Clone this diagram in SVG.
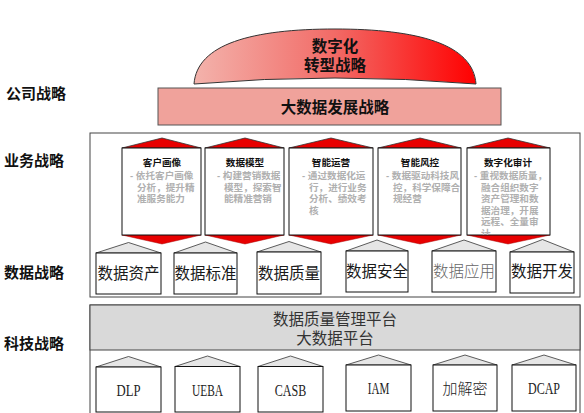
<svg xmlns="http://www.w3.org/2000/svg" width="584" height="413" viewBox="0 0 584 413">
<defs>
<linearGradient id="domeGrad" x1="0" y1="0" x2="1" y2="0">
<stop offset="0" stop-color="#f3b3ac"/>
<stop offset="0.5" stop-color="#f26a66"/>
<stop offset="1" stop-color="#ff0000"/>
</linearGradient>
<clipPath id="c1"><rect x="122" y="148" width="79" height="87"/></clipPath>
<clipPath id="c2"><rect x="205" y="148" width="79" height="87"/></clipPath>
<clipPath id="c3"><rect x="289" y="148" width="84" height="87"/></clipPath>
<clipPath id="c4"><rect x="378" y="148" width="83" height="87"/></clipPath>
<clipPath id="c5"><rect x="467" y="148" width="83" height="87"/></clipPath>
</defs>
<style>
.lbl{font-family:"Liberation Sans","Noto Sans CJK SC",sans-serif;font-weight:bold;font-size:15px;fill:#111}
.frame{fill:#fff;stroke:#444;stroke-width:1}
.red{fill:#e80000;stroke:#333;stroke-width:0.8}
.redb{fill:#e80000;stroke:#a00;stroke-width:0.5}
.body{fill:#fff;stroke:#111;stroke-width:1}
.roof{fill:#e6e6e6;stroke:#333;stroke-width:0.8}
.ct{font-family:"Liberation Sans","Noto Sans CJK SC",sans-serif;font-weight:bold;font-size:9.6px;fill:#111;text-anchor:middle}
.cb{font-family:"Liberation Sans","Noto Sans CJK SC",sans-serif;font-weight:bold;font-size:9.6px;fill:#b0b0b0}
.ht{font-family:"Liberation Sans","Noto Sans CJK SC",sans-serif;font-size:15.5px;fill:#1a1a1a;text-anchor:middle}
.pt{font-family:"Liberation Sans","Noto Sans CJK SC",sans-serif;font-size:15.5px;fill:#333;text-anchor:middle}
.hd{font-family:"Liberation Sans","Noto Sans CJK SC",sans-serif;font-weight:bold;font-size:15.5px;fill:#111;text-anchor:middle}
.tt{font-family:"Liberation Serif","Noto Sans CJK SC",serif;font-size:16px;fill:#222;text-anchor:middle}
</style>

<!-- left labels -->
<g id="labels">
<text class="lbl" x="6" y="98.5">公司战略</text>
<text class="lbl" x="4" y="165.5">业务战略</text>
<text class="lbl" x="4" y="277.5">数据战略</text>
<text class="lbl" x="4" y="348.5">科技战略</text>
</g>

<!-- dome -->
<g id="dome">
<path d="M194,84 C197,44 252,29 335,29 C418,29 473,44 476,84 Q335,72 194,84 Z" fill="url(#domeGrad)" stroke="#333" stroke-width="1"/>
<text class="hd" x="335" y="51.5">数字化</text>
<text class="hd" x="335" y="70.5">转型战略</text>
</g>

<!-- big data strategy -->
<g id="bigdata">
<rect x="158" y="88" width="343" height="37" fill="#f0a29b" stroke="#555" stroke-width="1"/>
<text class="hd" x="335" y="112.5">大数据发展战略</text>
</g>

<!-- business frame -->
<rect id="bizFrame" class="frame" x="90" y="133" width="490" height="164"/>

<!-- business cards -->
<g id="card1">
<polygon class="red" points="122,148 162,138 201,148"/>
<polygon class="redb" points="122,235 162,244 201,235"/>
<rect class="body" x="122" y="148" width="79" height="87"/>
<text class="ct" x="162" y="166">客户画像</text>
<g clip-path="url(#c1)">
<text class="cb" x="130" y="179">- 依托客户画像</text>
<text class="cb" x="137" y="190.5">分析，提升精</text>
<text class="cb" x="137" y="202">准服务能力</text>
</g>
</g>
<g id="card2">
<polygon class="red" points="205,148 245,138 284,148"/>
<polygon class="redb" points="205,235 245,244 284,235"/>
<rect class="body" x="205" y="148" width="79" height="87"/>
<text class="ct" x="245" y="166">数据模型</text>
<g clip-path="url(#c2)">
<text class="cb" x="217" y="179">- 构建营销数据</text>
<text class="cb" x="224" y="190.5">模型，探索智</text>
<text class="cb" x="224" y="202">能精准营销</text>
</g>
</g>
<g id="card3">
<polygon class="red" points="289,148 331,138 373,148"/>
<polygon class="redb" points="289,235 331,244 373,235"/>
<rect class="body" x="289" y="148" width="84" height="87"/>
<text class="ct" x="331" y="166">智能运营</text>
<g clip-path="url(#c3)">
<text class="cb" x="302" y="179">- 通过数据化运</text>
<text class="cb" x="309" y="190.5">行，进行业务</text>
<text class="cb" x="309" y="202">分析、绩效考</text>
<text class="cb" x="309" y="213.5">核</text>
</g>
</g>
<g id="card4">
<polygon class="red" points="378,148 420,138 461,148"/>
<polygon class="redb" points="378,235 420,244 461,235"/>
<rect class="body" x="378" y="148" width="83" height="87"/>
<text class="ct" x="420" y="166">智能风控</text>
<g clip-path="url(#c4)">
<text class="cb" x="386" y="179">- 数据驱动科技风</text>
<text class="cb" x="393" y="190.5">控，科学保障合</text>
<text class="cb" x="393" y="202">规经营</text>
</g>
</g>
<g id="card5">
<polygon class="red" points="467,148 508,138 550,148"/>
<polygon class="redb" points="467,235 508,244 550,235"/>
<rect class="body" x="467" y="148" width="83" height="87"/>
<text class="ct" x="508" y="166">数字化审计</text>
<g clip-path="url(#c5)">
<text class="cb" x="474" y="179">- 重视数据质量，</text>
<text class="cb" x="481" y="190.5">融合组织数字</text>
<text class="cb" x="481" y="202">资产管理和数</text>
<text class="cb" x="481" y="213.5">据治理，开展</text>
<text class="cb" x="481" y="225">远程、全量审</text>
<text class="cb" x="481" y="236.5">计</text>
</g>
</g>

<!-- data houses -->
<g id="d1">
<polygon class="roof" points="96,253 128.5,242.5 161,253"/>
<rect class="body" x="96" y="253" width="65" height="41"/>
<text class="ht" x="128.5" y="279">数据资产</text>
</g>
<g id="d2">
<polygon class="roof" points="174,253 205.5,242 237,253"/>
<rect class="body" x="174" y="253" width="63" height="41"/>
<text class="ht" x="205.5" y="279">数据标准</text>
</g>
<g id="d3">
<polygon class="roof" points="257,252 289,241.5 321,252"/>
<rect class="body" x="257" y="252" width="64" height="42"/>
<text class="ht" x="289" y="279">数据质量</text>
</g>
<g id="d4">
<polygon class="roof" points="346,251 377,240 408,251"/>
<rect class="body" x="346" y="251" width="62" height="41"/>
<text class="ht" x="377" y="277">数据安全</text>
</g>
<g id="d5">
<polygon class="roof" points="432,251 464,240 496,251"/>
<rect class="body" x="432" y="251" width="64" height="41"/>
<text class="ht" x="464" y="277" style="fill:#666;font-weight:300">数据应用</text>
</g>
<g id="d6">
<polygon class="roof" points="510,252 542.5,239.5 574,252"/>
<rect class="body" x="510" y="252" width="64" height="41"/>
<text class="ht" x="542" y="277">数据开发</text>
</g>

<!-- tech frame -->
<rect id="techFrame" class="frame" x="90" y="305" width="490" height="115"/>
<g id="platform">
<rect x="90" y="305" width="490" height="45" fill="#d9d9d9" stroke="#444" stroke-width="1"/>
<text class="pt" x="335" y="324.5">数据质量管理平台</text>
<text class="pt" x="335" y="343.5">大数据平台</text>
</g>

<!-- tech houses -->
<g id="t1">
<polygon class="roof" points="96,367 128.5,356.5 161,367"/>
<rect class="body" x="96" y="367" width="65" height="45"/>
<text class="tt" x="128.5" y="395.5" textLength="24" lengthAdjust="spacingAndGlyphs">DLP</text>
</g>
<g id="t2">
<polygon class="roof" points="175,366.5 207.5,356 240,366.5"/>
<rect class="body" x="175" y="366.5" width="65" height="45.5"/>
<text class="tt" x="207.5" y="395.5" textLength="31" lengthAdjust="spacingAndGlyphs">UEBA</text>
</g>
<g id="t3">
<polygon class="roof" points="258,366.5 290.5,356 323,366.5"/>
<rect class="body" x="258" y="366.5" width="65" height="45.5"/>
<text class="tt" x="290.5" y="395.5" textLength="31.5" lengthAdjust="spacingAndGlyphs">CASB</text>
</g>
<g id="t4">
<polygon class="roof" points="346,365 378.5,355 411,365"/>
<rect class="body" x="346" y="365" width="65" height="46"/>
<text class="tt" x="378.5" y="393.5" textLength="21.5" lengthAdjust="spacingAndGlyphs">IAM</text>
</g>
<g id="t5">
<polygon class="roof" points="433,365 465,355 497,365"/>
<rect class="body" x="433" y="365" width="64" height="46"/>
<text class="tt" x="465" y="393.5" style="font-size:15px;font-weight:300">加解密</text>
</g>
<g id="t6">
<polygon class="roof" points="512,365 544,355 576,365"/>
<rect class="body" x="512" y="365" width="64" height="46"/>
<text class="tt" x="544" y="393.5" textLength="32" lengthAdjust="spacingAndGlyphs">DCAP</text>
</g>

<g id="connectors"></g>
</svg>
